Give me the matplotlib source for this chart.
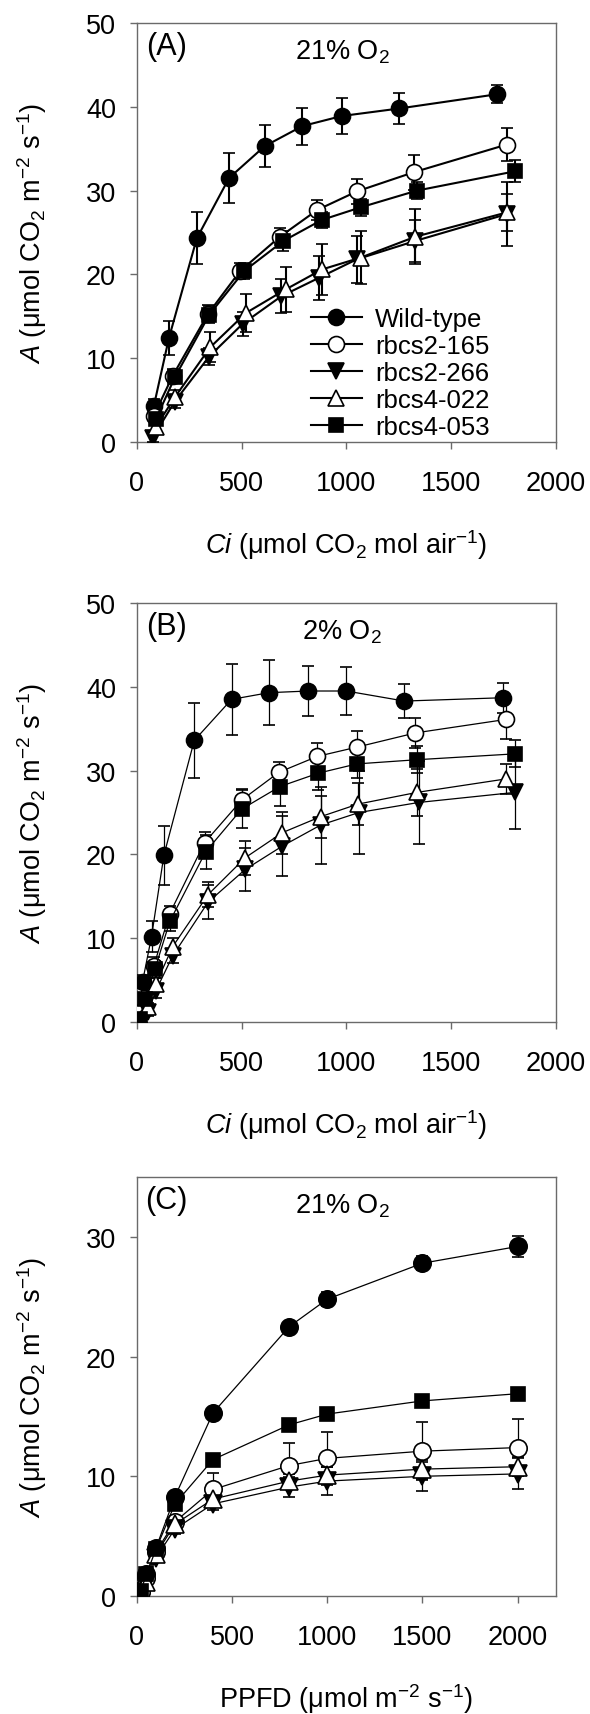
import matplotlib
matplotlib.use("Agg")
import matplotlib.pyplot as plt

plt.rcParams['font.family'] = ['Liberation Sans', 'DejaVu Sans']
plt.rcParams['mathtext.fontset'] = 'custom'
plt.rcParams['mathtext.rm'] = 'Liberation Sans'
plt.rcParams['mathtext.it'] = 'Liberation Sans:italic'
plt.rcParams['mathtext.bf'] = 'Liberation Sans:bold'

series_names = ["Wild-type", "rbcs2-165", "rbcs2-266", "rbcs4-022", "rbcs4-053"]

# ---------------- Panel A: A/Ci at 21% O2 ----------------
a_ci_wt = [81, 153, 286, 440, 610, 790, 978, 1253, 1720]
a_wt = [4.3, 12.4, 24.3, 31.5, 35.3, 37.7, 38.9, 39.8, 41.5]
a_wt_err = [0.8, 2.0, 3.1, 3.0, 2.5, 2.2, 2.1, 1.9, 1.1]

a_ci_165 = [80, 171, 340, 493, 683, 862, 1050, 1323, 1767]
a_165 = [3.1, 7.9, 15.3, 20.4, 24.5, 27.7, 29.9, 32.2, 35.5]
a_165_err = [0.6, 0.8, 1.0, 1.0, 1.0, 1.2, 1.5, 2.1, 2.0]

a_ci_266 = [75, 180, 345, 505, 690, 870, 1050, 1330, 1767]
a_266 = [0.5, 4.8, 10.2, 14.1, 17.4, 19.6, 21.8, 24.0, 27.2]
a_266_err = [0.5, 0.8, 1.0, 1.4, 2.0, 2.6, 2.8, 2.5, 3.8]

a_ci_022 = [90, 183, 350, 521, 710, 885, 1068, 1330, 1767]
a_022 = [1.8, 5.4, 11.3, 15.4, 18.2, 20.6, 22.0, 24.5, 27.4]
a_022_err = [0.5, 0.8, 1.8, 2.3, 2.7, 3.0, 3.2, 3.3, 2.2]

a_ci_053 = [90, 183, 346, 512, 700, 883, 1068, 1337, 1805]
a_053 = [2.7, 7.8, 15.2, 20.4, 24.0, 26.5, 28.0, 30.0, 32.3]
a_053_err = [0.5, 0.8, 1.0, 1.0, 1.2, 1.0, 1.0, 1.0, 1.3]

# ---------------- Panel B: A/Ci at 2% O2 ----------------
b_ci_wt = [12, 27, 70, 129, 274, 452, 630, 818, 1000, 1277, 1750]
b_wt = [0.9, 4.8, 10.2, 19.9, 33.6, 38.5, 39.3, 39.5, 39.5, 38.3, 38.7]
b_wt_err = [0.3, 0.8, 1.8, 3.5, 4.5, 4.2, 3.9, 3.0, 2.9, 2.0, 1.8]

b_ci_165 = [16, 81, 156, 323, 501, 678, 862, 1050, 1330, 1760]
b_165 = [1.2, 6.7, 12.9, 21.4, 26.5, 29.8, 31.7, 32.8, 34.5, 36.1]
b_165_err = [0.3, 1.0, 1.0, 1.3, 1.3, 1.2, 1.6, 1.9, 1.8, 2.3]

b_ci_266 = [20, 54, 90, 171, 340, 517, 695, 877, 1060, 1346, 1805]
b_266 = [0.1, 1.2, 3.7, 7.9, 14.3, 18.2, 21.0, 23.5, 25.0, 26.2, 27.4]
b_266_err = [0.3, 0.5, 0.8, 0.8, 2.0, 2.6, 3.6, 4.6, 5.0, 5.0, 4.4]

b_ci_022 = [20, 54, 90, 171, 340, 517, 695, 877, 1055, 1337, 1760]
b_022 = [0.3, 1.8, 4.5, 9.0, 15.2, 19.6, 22.6, 24.5, 26.0, 27.4, 29.0]
b_022_err = [0.3, 0.5, 0.8, 1.0, 1.5, 2.0, 2.5, 2.5, 2.5, 2.8, 1.8]

b_ci_053 = [14, 37, 86, 157, 328, 500, 683, 867, 1050, 1337, 1805]
b_053 = [0.4, 2.7, 6.3, 12.0, 20.3, 25.4, 28.1, 29.7, 30.8, 31.3, 32.0]
b_053_err = [0.3, 0.5, 1.0, 1.2, 2.0, 2.3, 2.3, 2.0, 1.7, 1.6, 1.6]

# ---------------- Panel C: light response at 21% O2 ----------------
c_ppfd = [20, 50, 100, 200, 400, 800, 1000, 1500, 2000]
c_wt = [0.5, 1.8, 4.0, 8.3, 15.3, 22.5, 24.8, 27.8, 29.2]
c_wt_err = [0.2, 0.3, 0.3, 0.4, 0.4, 0.4, 0.6, 0.6, 0.9]
c_165 = [0.3, 1.5, 3.7, 6.2, 8.9, 10.9, 11.5, 12.1, 12.4]
c_165_err = [0.2, 0.3, 0.3, 0.5, 1.4, 1.9, 2.2, 2.4, 2.4]
c_266 = [0.1, 1.0, 3.2, 5.6, 7.7, 9.1, 9.6, 10.0, 10.2]
c_266_err = [0.2, 0.3, 0.3, 0.4, 0.5, 0.8, 1.2, 1.2, 1.3]
c_022 = [0.2, 1.2, 3.5, 6.0, 8.1, 9.6, 10.1, 10.6, 10.8]
c_022_err = [0.2, 0.3, 0.3, 0.4, 0.5, 0.6, 0.7, 0.8, 0.8]
c_053 = [0.4, 1.8, 3.9, 7.7, 11.4, 14.3, 15.2, 16.3, 16.9]
c_053_err = [0.2, 0.3, 0.3, 0.3, 0.3, 0.3, 0.3, 0.3, 0.3]

ci_ticks = [0, 500, 1000, 1500, 2000]
a_yticks = [0, 10, 20, 30, 40, 50]
c_yticks = [0, 10, 20, 30]

# marker styles: (marker, facecolor, size factor)
styles = [("o", "black", 1.0), ("o", "white", 1.0), ("v", "black", 1.0),
          ("^", "white", 1.0), ("s", "black", 0.85)]

SPINE = "#6a6a6a"
FS = 19.5

fig = plt.figure(figsize=(5.9, 17.15), dpi=100)
L, W, H = 0.232, 0.710, 0.2443
axA = fig.add_axes([L, 0.7417, W, H])
axB = fig.add_axes([L, 0.4035, W, H])
axC = fig.add_axes([L, 0.0688, W, H])


def draw(ax, xs, ys, es, lw, ms):
    for (x, y, e), (mk, fc, f) in zip(zip(xs, ys, es), styles):
        ax.errorbar(x, y, yerr=e, color="black", lw=lw, marker=mk, ms=ms * f,
                    mfc=fc, mec="black", mew=1.2, elinewidth=lw, capsize=4,
                    capthick=lw, zorder=3)


def style(ax, xlim, ylim, xt, yt, xlabel, letter, title):
    ax.set_xlim(*xlim)
    ax.set_ylim(*ylim)
    ax.set_xticks(xt)
    ax.set_yticks(yt)
    for s in ax.spines.values():
        s.set_color(SPINE)
        s.set_linewidth(1.0)
    ax.tick_params(axis="both", direction="out", length=5, width=1.0,
                   color=SPINE, labelsize=FS)
    ax.tick_params(axis="x", pad=15)
    ax.tick_params(axis="y", pad=10)
    ax.set_xlabel(xlabel, fontsize=FS)
    ax.xaxis.set_label_coords(0.5, -0.243)
    ax.xaxis.label.set_va("center")
    ax.set_ylabel(r"$\mathit{A}$ (μmol CO$_2$ m$^{-2}$ s$^{-1}$)", fontsize=FS)
    ax.yaxis.set_label_coords(-0.25, 0.5)
    ax.yaxis.label.set_va("center")
    ax.text(0.07, 0.945, letter, transform=ax.transAxes, fontsize=22,
            ha="center", va="center")
    ax.text(0.49, 0.932, title, transform=ax.transAxes, fontsize=19.5,
            ha="center", va="center")


ci_label = r"$\mathit{Ci}$ (μmol CO$_2$ mol air$^{-1}$)"

draw(axA, [a_ci_wt, a_ci_165, a_ci_266, a_ci_022, a_ci_053],
     [a_wt, a_165, a_266, a_022, a_053],
     [a_wt_err, a_165_err, a_266_err, a_022_err, a_053_err], 1.5, 11.5)
style(axA, (0, 2000), (0, 50), ci_ticks, a_yticks, ci_label, "(A)", r"21% O$_2$")

handles = []
for (mk, fc, f), name in zip(styles, series_names):
    h, = axA.plot([], [], color="black", lw=1.5, marker=mk, ms=11.5 * f,
                  mfc=fc, mec="black", mew=1.2, label=name)
    handles.append(h)
axA.legend(handles=handles, loc="lower left", bbox_to_anchor=(0.415, 0.008),
           frameon=False, fontsize=18.5, handlelength=2.0, handletextpad=0.5,
           labelspacing=0.11, borderpad=0, borderaxespad=0)

draw(axB, [b_ci_wt, b_ci_165, b_ci_266, b_ci_022, b_ci_053],
     [b_wt, b_165, b_266, b_022, b_053],
     [b_wt_err, b_165_err, b_266_err, b_022_err, b_053_err], 0.9, 11.5)
style(axB, (0, 2000), (0, 50), ci_ticks, a_yticks, ci_label, "(B)", r"2% O$_2$")

cx = [c_ppfd] * 5
draw(axC, cx, [c_wt, c_165, c_266, c_022, c_053],
     [c_wt_err, c_165_err, c_266_err, c_022_err, c_053_err], 0.9, 12.5)
style(axC, (0, 2200), (0, 35), ci_ticks, c_yticks,
      r"PPFD (μmol m$^{-2}$ s$^{-1}$)", "(C)", r"21% O$_2$")

fig.savefig("out.png", dpi=100)
